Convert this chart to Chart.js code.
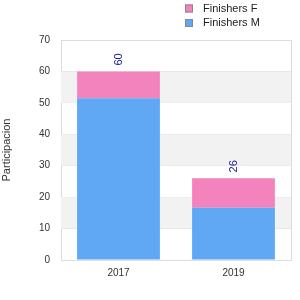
<!DOCTYPE html>
<html><head><meta charset="utf-8">
<script src="https://cdn.jsdelivr.net/npm/chart.js@4"></script>
<style>html,body{margin:0;padding:0;background:#fff;}canvas{display:block;}</style>
</head><body>
<canvas id="c" width="300" height="300"></canvas>
<script>
const categories = ["2017", "2019"];
const finishersM = [51.5, 16.6];
const finishersF = [8.5, 9.4];
const totals = [60, 26];
const yTicks = [0, 10, 20, 30, 40, 50, 60, 70];
const seriesNames = ["Finishers M", "Finishers F"];
const colM = "#60a8f4";
const colF = "#f283bd";
const FONT = "'Liberation Sans', Arial, sans-serif";

const bands = {
  id: 'bands',
  beforeDatasetsDraw(chart) {
    const {ctx, chartArea: a, scales: {y}} = chart;
    ctx.save();
    ctx.fillStyle = '#f2f2f2';
    for (let v = 10; v < 70; v += 20) {
      const y1 = y.getPixelForValue(v + 10), y0 = y.getPixelForValue(v);
      ctx.fillRect(a.left, y1, a.right - a.left, y0 - y1);
    }
    ctx.strokeStyle = '#dcdcdc';
    ctx.lineWidth = 1;
    ctx.beginPath();
    ctx.moveTo(Math.round(a.right) + 0.5, a.top);
    ctx.lineTo(Math.round(a.right) + 0.5, a.bottom);
    ctx.stroke();
    ctx.restore();
  }
};
const topLabels = {
  id: 'topLabels',
  afterDatasetsDraw(chart) {
    const {ctx} = chart;
    const meta = chart.getDatasetMeta(1);
    ctx.save();
    ctx.fillStyle = '#1c1c96';
    ctx.font = '11px ' + FONT;
    ctx.textAlign = 'center';
    ctx.textBaseline = 'middle';
    meta.data.forEach((bar, i) => {
      const yy = chart.scales.y.getPixelForValue(totals[i]);
      ctx.save();
      ctx.translate(bar.x, yy - 12);
      ctx.rotate(-Math.PI / 2);
      ctx.fillText(String(totals[i]), 0, 0);
      ctx.restore();
    });
    ctx.restore();
  }
};
const legendDraw = {
  id: 'legendDraw',
  afterDraw(chart) {
    const {ctx} = chart;
    const items = [[seriesNames[1], colF], [seriesNames[0], colM]];
    ctx.save();
    ctx.font = '11px ' + FONT;
    ctx.textBaseline = 'middle';
    items.forEach((it, i) => {
      const cy = 8.5 + i * 14.5;
      ctx.fillStyle = it[1];
      ctx.fillRect(185, cy - 4, 8, 8);
      ctx.strokeStyle = '#888';
      ctx.lineWidth = 1;
      ctx.strokeRect(185.5, cy - 3.5, 7, 7);
      ctx.fillStyle = '#222';
      ctx.fillText(it[0], 203, cy);
    });
    ctx.restore();
  }
};

new Chart(document.getElementById('c'), {
  type: 'bar',
  data: {
    labels: categories,
    datasets: [
      {label: seriesNames[0], data: finishersM, backgroundColor: colM, borderWidth: 0},
      {label: seriesNames[1], data: finishersF, backgroundColor: colF, borderWidth: 0}
    ]
  },
  options: {
    responsive: false,
    animation: false,
    layout: {padding: {top: 40, right: 9, left: 0, bottom: 0}},
    plugins: {legend: {display: false}, tooltip: {enabled: false}},
    scales: {
      x: {
        stacked: true,
        grid: {display: false, drawTicks: false},
        border: {color: '#dcdcdc'},
        ticks: {color: '#333', font: {family: FONT, size: 10}, padding: 7},
        afterFit(s) { s.height = 40; }
      },
      y: {
        stacked: true,
        min: 0, max: 70,
        afterBuildTicks(s) { s.ticks = yTicks.map(v => ({value: v})); },
        grid: {color: '#dcdcdc', drawTicks: false},
        border: {color: '#dcdcdc'},
        ticks: {color: '#333', font: {family: FONT, size: 10}, padding: 11},
        title: {display: true, text: 'Participacion', color: '#333', font: {family: FONT, size: 11}, padding: {top: 0, bottom: 0}},
        afterFit(s) { s.width = 61; }
      }
    }
  },
  plugins: [bands, topLabels, legendDraw]
});
</script>
</body></html>
